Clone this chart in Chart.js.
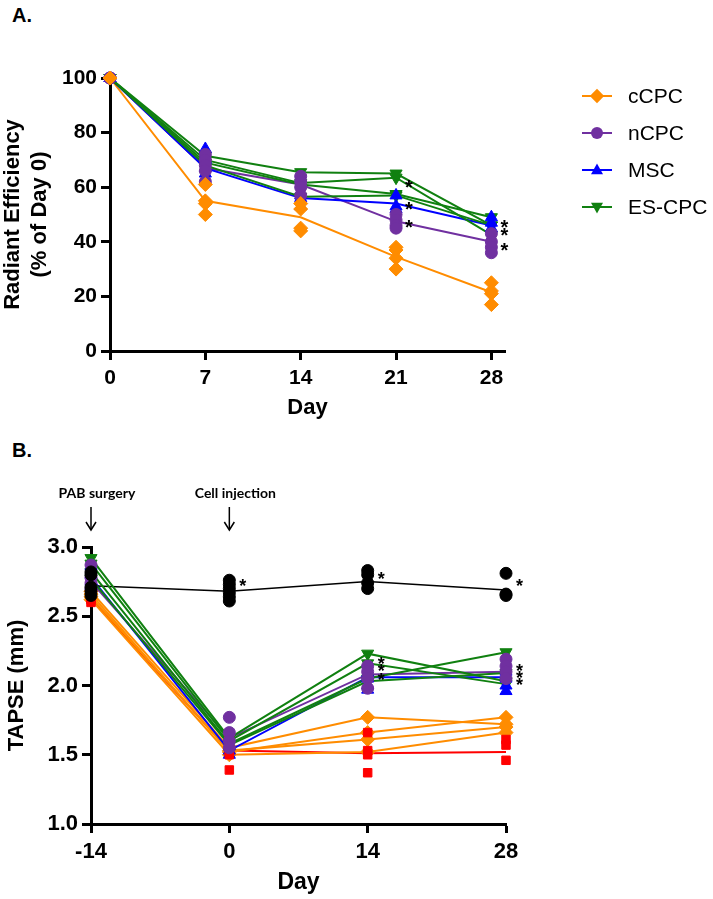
<!DOCTYPE html>
<html>
<head>
<meta charset="utf-8">
<script src="https://cdn.jsdelivr.net/npm/chart.js@4.4.0/dist/chart.umd.min.js"></script>
<style>
  body { margin: 0; background: #fff; width: 713px; height: 899px; overflow: hidden; position: relative; font-family: 'Liberation Sans', Arial, sans-serif; }
  canvas { position: absolute; left: 0; }
  #chartA { top: 0; }
  #chartB { top: 430px; }
  .tag { position: absolute; left: 12px; font-weight: bold; font-size: 20px; line-height: 20px; }
</style>
</head>
<body>
<div class="tag" style="top:5px">A.</div>
<div class="tag" style="top:440px">B.</div>
<canvas id="chartA" width="713" height="430"></canvas>
<canvas id="chartB" width="713" height="469"></canvas>
<script>
// ===== Data: panel A (Radiant Efficiency) =====
const daysA = [0, 7, 14, 21, 28];
const yTicksA = [0, 20, 40, 60, 80, 100];
const cCPC_A_line = [100, 55, 49, 34.5, 21.5];
const nCPC_A_line = [100, 67, 61, 47.5, 40];
const MSC_A_line = [100, 67, 56, 54, 46];
const ESCPC_A_lines = [
  [100, 71.5, 65.5, 65, 46],
  [100, 70, 61.5, 63.5, 42.5],
  [100, 69, 61, 57.5, 49],
  [100, 68, 56.5, 57, 46]
];
const cCPC_A_pts = [[100, 100, 100, 100], [61, 55, 54, 50], [54, 52, 45, 44], [38, 37, 34, 30], [25, 22, 21, 17]];
const nCPC_A_pts = [[100, 100, 100, 100], [72, 70, 68, 66, 62], [64, 62, 60, 57], [50, 48, 46, 45], [43, 40, 38, 36]];
const MSC_A_pts = [[100, 100, 100], [74, 70, 67, 65], [57, 56, 53], [57, 53, 52], [49, 47, 45]];
const starsA = [[21, 61.5], [21, 53.5], [21, 47], [28, 47], [28, 44], [28, 38.5]];

// ===== Data: panel B (TAPSE) =====
const daysB = [-14, 0, 14, 28];
const yTicksB = [1.0, 1.5, 2.0, 2.5, 3.0];
const CTL_B_line = [2.72, 2.68, 2.75, 2.69];
const PAB_B_line = [2.63, 1.53, 1.51, 1.52];
const MSC_B_line = [2.78, 1.53, 2.06, 2.06];
const nCPC_B_line = [2.75, 1.62, 2.08, 2.10];
const ESCPC_B_lines = [
  [2.92, 1.62, 2.23, 2.03],
  [2.88, 1.60, 2.16, 2.01],
  [2.82, 1.58, 2.05, 2.24],
  [2.77, 1.57, 2.03, 2.09]
];
const cCPC_B_lines = [
  [2.68, 1.55, 1.77, 1.72],
  [2.66, 1.52, 1.66, 1.77],
  [2.64, 1.53, 1.61, 1.70],
  [2.62, 1.50, 1.52, 1.66]
];
const CTL_B_pts = [[2.82, 2.80, 2.71, 2.68, 2.65], [2.76, 2.73, 2.70, 2.67, 2.64, 2.61], [2.83, 2.80, 2.74, 2.70], [2.81, 2.66, 2.65]];
const PAB_B_pts = [[2.74, 2.70, 2.65, 2.62, 2.60], [1.65, 1.62, 1.58, 1.52, 1.50, 1.39], [1.66, 1.53, 1.50, 1.37], [1.61, 1.57, 1.46]];
const MSC_B_pts = [[2.86, 2.80, 2.75, 2.72], [1.56, 1.53, 1.50], [2.09, 2.05, 2.00, 1.97], [2.10, 2.05, 2.00, 1.96]];
const nCPC_B_pts = [[2.87, 2.78, 2.74, 2.70], [1.77, 1.66, 1.60, 1.55], [2.14, 2.10, 2.05, 1.98], [2.19, 2.14, 2.10, 2.05]];
const starsB = [[0, 2.75], [14, 2.80], [28, 2.75], [14, 2.18], [14, 2.13], [14, 2.07], [28, 2.13], [28, 2.08], [28, 2.03]];
const eventsB = [[-14, 'PAB surgery'], [0, 'Cell injection']];

// ===== Styles =====
const ORANGE = '#ff8c00', PURPLE = '#7030a0', BLUE = '#0000ff', GREEN = '#108010', RED = '#ff0000', BLACK = '#000000';
const FONT = "'Liberation Sans', Arial, sans-serif";
const R = 7;

const legendA = [
  ['cCPC', ORANGE, 'rectRot', 0],
  ['nCPC', PURPLE, 'circle', 0],
  ['MSC', BLUE, 'triangle', 0],
  ['ES-CPC', GREEN, 'triangle', 180]
];
const legendB = [
  ['CTL', BLACK, 'circle', 0],
  ['PAB', RED, 'rect', 0],
  ['MSC', BLUE, 'triangle', 0],
  ['ES-CPC', GREEN, 'triangle', 180],
  ['cCPC', ORANGE, 'rectRot', 0],
  ['nCPC', PURPLE, 'circle', 0]
];

function lineDs(xs, ys, color, style, rot, radius, width, order) {
  return {
    data: xs.map((x, i) => ({ x: x, y: ys[i] })),
    showLine: true, borderColor: color, backgroundColor: color, borderWidth: width,
    pointStyle: style, pointRotation: rot, pointRadius: radius, pointBorderWidth: 1,
    clip: false, order: order
  };
}
function ptsDs(xs, cols, color, style, rot, radius, order) {
  const data = [];
  cols.forEach((vals, i) => vals.forEach(v => data.push({ x: xs[i], y: v })));
  return {
    data: data, showLine: false, borderColor: color, backgroundColor: color,
    pointStyle: style, pointRotation: rot, pointRadius: radius, pointBorderWidth: 1,
    clip: false, order: order
  };
}

function drawMarker(ctx, style, rot, x, y, r) {
  ctx.beginPath();
  if (style === 'circle') {
    ctx.arc(x, y, r, 0, Math.PI * 2);
  } else if (style === 'rect') {
    ctx.rect(x - r, y - r, 2 * r, 2 * r);
  } else if (style === 'rectRot') {
    ctx.moveTo(x, y - r * 1.2); ctx.lineTo(x + r * 1.2, y); ctx.lineTo(x, y + r * 1.2); ctx.lineTo(x - r * 1.2, y);
  } else {
    const s = rot === 180 ? -1 : 1;
    ctx.moveTo(x, y - s * r * 1.1); ctx.lineTo(x + r, y + s * r * 0.7); ctx.lineTo(x - r, y + s * r * 0.7);
  }
  ctx.closePath();
  ctx.fill();
}

// legend, stars and event arrows drawn on top
const extras = {
  id: 'extras',
  afterDatasetsDraw(chart, args, opts) {
    const ctx = chart.ctx, xs = chart.scales.x, ys = chart.scales.y;
    ctx.save();
    // significance stars
    ctx.fillStyle = '#000';
    ctx.font = 'bold ' + opts.starSize + 'px ' + FONT;
    ctx.textAlign = 'left';
    ctx.textBaseline = 'alphabetic';
    opts.stars.forEach(s => {
      ctx.fillText('*', xs.getPixelForValue(s[0]) + opts.starDx, ys.getPixelForValue(s[1]) + opts.starSize * 0.55);
    });
    // legend
    opts.legend.forEach((it, i) => {
      const y = opts.legendY + i * opts.legendGap;
      ctx.strokeStyle = it[1]; ctx.fillStyle = it[1]; ctx.lineWidth = 2;
      ctx.beginPath(); ctx.moveTo(opts.legendX, y); ctx.lineTo(opts.legendX + 30, y); ctx.stroke();
      drawMarker(ctx, it[2], it[3], opts.legendX + 15, y, 6);
      ctx.fillStyle = '#000';
      ctx.font = '21px ' + FONT;
      ctx.textBaseline = 'middle';
      ctx.fillText(it[0], opts.legendX + 46, y + 1);
    });
    // event arrows
    (opts.events || []).forEach(ev => {
      const x = xs.getPixelForValue(ev[0]);
      ctx.fillStyle = '#000'; ctx.strokeStyle = '#000'; ctx.lineWidth = 1.5;
      ctx.font = 'bold 14px Lato, ' + FONT;
      ctx.textAlign = 'center'; ctx.textBaseline = 'middle';
      ctx.fillText(ev[1], x + 6, 63);
      ctx.beginPath(); ctx.moveTo(x, 77); ctx.lineTo(x, 99); ctx.stroke();
      ctx.beginPath(); ctx.moveTo(x - 5, 92); ctx.lineTo(x, 100); ctx.lineTo(x + 5, 92); ctx.stroke();
    });
    ctx.restore();
  }
};

function axisCommon(tickVals, fmt, size) {
  return {
    type: 'linear',
    afterBuildTicks: s => { s.ticks = tickVals.map(v => ({ value: v })); },
    grid: { drawOnChartArea: false, drawTicks: true, tickLength: 9, tickWidth: 3, tickColor: '#000' },
    border: { color: '#000', width: 3 },
    ticks: { color: '#000', font: { family: FONT, size: size, weight: 'bold' }, padding: 4, maxRotation: 0, callback: fmt }
  };
}

// ===== Chart A =====
const datasetsA = [];
ESCPC_A_lines.forEach(l => datasetsA.push(lineDs(daysA, l, GREEN, 'triangle', 180, R, 2, 3)));
datasetsA.push(lineDs(daysA, MSC_A_line, BLUE, 'triangle', 0, 0, 2, 4));
datasetsA.push(lineDs(daysA, nCPC_A_line, PURPLE, 'circle', 0, 0, 2, 4));
datasetsA.push(lineDs(daysA, cCPC_A_line, ORANGE, 'rectRot', 0, 0, 2, 5));
datasetsA.push(ptsDs(daysA, MSC_A_pts, BLUE, 'triangle', 0, R, 2));
datasetsA.push(ptsDs(daysA, nCPC_A_pts, PURPLE, 'circle', 0, 6, 1));
datasetsA.push(ptsDs(daysA, cCPC_A_pts, ORANGE, 'rectRot', 0, R, 0));

const xA = axisCommon(daysA, v => v, 21);
xA.min = 0; xA.max = 29;
xA.afterFit = s => { s.height = 70; };
xA.ticks.padding = 6;
xA.title = { display: true, text: 'Day', color: '#000', font: { family: FONT, size: 22, weight: 'bold' }, padding: 0 };
const yA = axisCommon(yTicksA, v => v, 21);
yA.min = 0; yA.max = 100;
yA.afterFit = s => { s.width = 110; };
yA.title = { display: true, text: ['Radiant Efficiency', '(% of Day 0)'], color: '#000', font: { family: FONT, size: 22, weight: 'bold', lineHeight: 1.2 }, padding: { top: 0, bottom: 0 } };

new Chart(document.getElementById('chartA').getContext('2d'), {
  type: 'scatter',
  data: { datasets: datasetsA },
  options: {
    responsive: false, animation: false, events: [], devicePixelRatio: 1,
    layout: { padding: { left: 0, top: 78, right: 208, bottom: 9 } },
    scales: { x: xA, y: yA },
    plugins: {
      legend: { display: false }, tooltip: { enabled: false },
      extras: { stars: starsA, starDx: 9, starSize: 20, legend: legendA, legendX: 582, legendY: 96, legendGap: 37 }
    }
  },
  plugins: [extras]
});

// ===== Chart B =====
const datasetsB = [];
datasetsB.push(lineDs(daysB, PAB_B_line, RED, 'rect', 0, 0, 2, 6));
cCPC_B_lines.forEach(l => datasetsB.push(lineDs(daysB, l, ORANGE, 'rectRot', 0, R, 2, 5)));
datasetsB.push(lineDs(daysB, MSC_B_line, BLUE, 'triangle', 0, 0, 2, 4));
datasetsB.push(lineDs(daysB, nCPC_B_line, PURPLE, 'circle', 0, 0, 2, 4));
ESCPC_B_lines.forEach(l => datasetsB.push(lineDs(daysB, l, GREEN, 'triangle', 180, R, 2, 3)));
datasetsB.push(lineDs(daysB, CTL_B_line, BLACK, 'circle', 0, 0, 1.5, 3));
datasetsB.push(ptsDs(daysB, PAB_B_pts, RED, 'rect', 0, 6, 2));
datasetsB.push(ptsDs(daysB, MSC_B_pts, BLUE, 'triangle', 0, R, 2));
datasetsB.push(ptsDs(daysB, nCPC_B_pts, PURPLE, 'circle', 0, 6, 1));
datasetsB.push(ptsDs(daysB, CTL_B_pts, BLACK, 'circle', 0, 6, 0));

const xB = axisCommon(daysB, v => v, 22);
xB.min = -14; xB.max = 28;
xB.afterFit = s => { s.height = 72; };
xB.ticks.padding = 6;
xB.title = { display: true, text: 'Day', color: '#000', font: { family: FONT, size: 23, weight: 'bold' }, padding: 0 };
const yB = axisCommon(yTicksB, v => v.toFixed(1), 22);
yB.min = 1.0; yB.max = 3.0;
yB.afterFit = s => { s.width = 91; };
yB.title = { display: true, text: 'TAPSE (mm)', color: '#000', font: { family: FONT, size: 22, weight: 'bold' }, padding: { top: 4, bottom: 0 } };

new Chart(document.getElementById('chartB').getContext('2d'), {
  type: 'scatter',
  data: { datasets: datasetsB },
  options: {
    responsive: false, animation: false, events: [], devicePixelRatio: 1,
    layout: { padding: { left: 0, top: 117, right: 207, bottom: 3 } },
    scales: { x: xB, y: yB },
    plugins: {
      legend: { display: false }, tooltip: { enabled: false },
      extras: { stars: starsB, starDx: 10, starSize: 18, legend: legendB, legendX: 570, legendY: 565, legendGap: 37, events: eventsB }
    }
  },
  plugins: [extras]
});
</script>
</body>
</html>
